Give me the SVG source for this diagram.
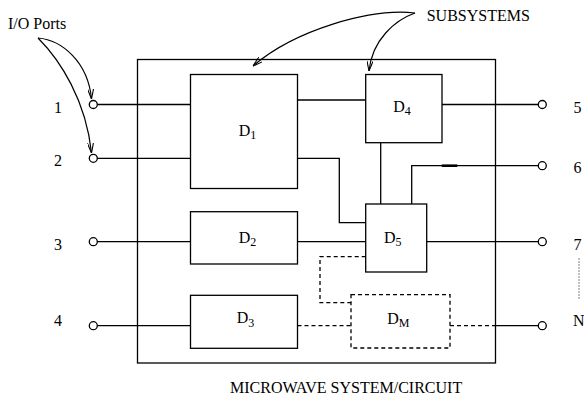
<svg xmlns="http://www.w3.org/2000/svg" width="584" height="395" viewBox="0 0 584 395">
<defs>
<style>
.ln{fill:none;stroke:#000;stroke-width:1.3}
.ds{fill:none;stroke:#000;stroke-width:1.3;stroke-dasharray:4,3}
.bx{fill:#fff;stroke:#000;stroke-width:1.3}
.pt{fill:#fff;stroke:#000;stroke-width:1.3}
.ar{fill:none;stroke:#000;stroke-width:1.2}
text{font-family:"Liberation Serif","Times New Roman",serif;font-size:16px;fill:#000}
.sub{font-size:12px}
</style>
<marker id="ah" viewBox="0 0 10 6" refX="10" refY="3" markerWidth="10" markerHeight="6" markerUnits="userSpaceOnUse" orient="auto">
<path d="M0,0 L10,3 L0,6" fill="none" stroke="#000" stroke-width="1.1"/>
</marker>
</defs>
<rect width="584" height="395" fill="#fff"/>

<g id="system">
<rect class="ln" x="137.5" y="59.5" width="358" height="303.5"/>
</g>

<g id="connectors">
<line class="ln" x1="97" y1="104.5" x2="190.5" y2="104.5"/>
<line class="ln" x1="97" y1="158.3" x2="190.5" y2="158.3"/>
<line class="ln" x1="97" y1="241.7" x2="190.5" y2="241.7"/>
<line class="ln" x1="97" y1="325.7" x2="190.5" y2="325.7"/>
<line class="ln" x1="297.5" y1="100" x2="365.7" y2="100"/>
<line class="ln" x1="442" y1="104.5" x2="538.5" y2="104.5"/>
<polyline class="ln" points="297.5,158.3 339.3,158.3 339.3,222.7 365.7,222.7"/>
<line class="ln" x1="380.7" y1="142.7" x2="380.7" y2="204"/>
<polyline class="ln" points="411.7,204 411.7,165.7 538.5,165.7"/>
<line x1="441.7" y1="165.7" x2="457.3" y2="165.7" stroke="#000" stroke-width="2.6"/>
<line class="ln" x1="297.5" y1="241.7" x2="365.7" y2="241.7"/>
<line class="ln" x1="426.7" y1="241.7" x2="538.5" y2="241.7"/>
<polyline class="ds" points="365.7,256.7 320,256.7 320,302.7 351,302.7"/>
<line class="ds" x1="297.5" y1="325.7" x2="351" y2="325.7"/>
<line class="ds" x1="450" y1="325.7" x2="495.5" y2="325.7"/>
<line class="ln" x1="495.5" y1="325.7" x2="538.5" y2="325.7"/>
<line x1="579" y1="258.5" x2="579" y2="300" stroke="#000" stroke-width="1" stroke-dasharray="1,2"/>
</g>

<g id="ports">
<circle class="pt" cx="93.3" cy="104.5" r="4"/>
<circle class="pt" cx="93.3" cy="158.3" r="4"/>
<circle class="pt" cx="93.3" cy="241.7" r="4"/>
<circle class="pt" cx="93.3" cy="325.7" r="4"/>
<circle class="pt" cx="542.3" cy="104.5" r="4"/>
<circle class="pt" cx="542.3" cy="165.7" r="4"/>
<circle class="pt" cx="542.3" cy="241.7" r="4"/>
<circle class="pt" cx="542.3" cy="325.7" r="4"/>
<text x="58" y="112.7" text-anchor="middle">1</text>
<text x="58" y="165.7" text-anchor="middle">2</text>
<text x="58" y="250" text-anchor="middle">3</text>
<text x="58" y="326" text-anchor="middle">4</text>
<text x="577.5" y="112.7" text-anchor="middle">5</text>
<text x="577.5" y="173.3" text-anchor="middle">6</text>
<text x="577.5" y="250" text-anchor="middle">7</text>
<text x="573" y="326">N</text>
</g>

<g id="D1">
<rect class="bx" x="190.5" y="74.5" width="107" height="114"/>
<text x="238.7" y="136">D<tspan class="sub" dy="3.3">1</tspan></text>
</g>
<g id="D2">
<rect class="bx" x="190.5" y="211.7" width="107" height="52.3"/>
<text x="238.7" y="242.7">D<tspan class="sub" dy="3.3">2</tspan></text>
</g>
<g id="D3">
<rect class="bx" x="190.5" y="295.3" width="107" height="53"/>
<text x="236.7" y="323.3">D<tspan class="sub" dy="3.3">3</tspan></text>
</g>
<g id="D4">
<rect class="bx" x="365.7" y="74.5" width="76.3" height="68.2"/>
<text x="393.3" y="111.7">D<tspan class="sub" dy="3.3">4</tspan></text>
</g>
<g id="D5">
<rect class="bx" x="365.7" y="204" width="61" height="68"/>
<text x="384" y="242.7">D<tspan class="sub" dy="3.3">5</tspan></text>
</g>
<g id="DM">
<rect class="ds" x="351" y="294.7" width="99" height="53.3"/>
<text x="387.3" y="324">D<tspan class="sub" dy="3.3">M</tspan></text>
</g>

<g id="labels">
<text x="8" y="29">I/O Ports</text>
<text x="426.7" y="21">SUBSYSTEMS</text>
<text x="230" y="393">MICROWAVE SYSTEM/CIRCUIT</text>
</g>

<g id="annotation-arrows">
<path class="ar" d="M38,38 C62,40 88,62 91.5,99" marker-end="url(#ah)"/>
<path class="ar" d="M38,38 C60,60 86,100 91.5,153" marker-end="url(#ah)"/>
<path class="ar" d="M415,13 C370,8 295,30 253,66" marker-end="url(#ah)"/>
<path class="ar" d="M415,13 C395,20 372,40 369,71" marker-end="url(#ah)"/>
</g>
</svg>
